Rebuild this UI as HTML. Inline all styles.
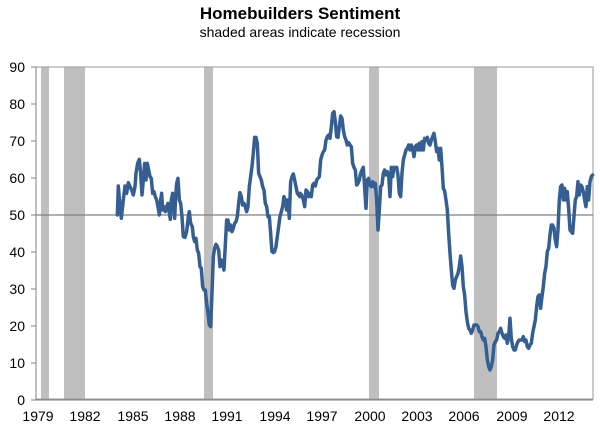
<!DOCTYPE html>
<html><head><style>
body{margin:0;background:#fff;width:600px;height:430px;overflow:hidden;font-family:"Liberation Sans",Arial,sans-serif}
</style></head><body>
<svg width="600" height="430" xmlns="http://www.w3.org/2000/svg" font-family="Liberation Sans, Arial, sans-serif">
<text x="300" y="19" text-anchor="middle" font-size="17" font-weight="bold">Homebuilders Sentiment</text>
<text x="300" y="37" text-anchor="middle" font-size="14">shaded areas indicate recession</text>
<g fill="#bfbfbf">
<rect x="41" y="67" width="8" height="332"/>
<rect x="64" y="67" width="21" height="332"/>
<rect x="204" y="67" width="9" height="332"/>
<rect x="369" y="67" width="10" height="332"/>
<rect x="474" y="67" width="23" height="332"/>
</g>
<rect x="36" y="67" width="557" height="332" fill="none" stroke="#9a9a9a" stroke-width="1"/>
<line x1="36" y1="215" x2="593" y2="215" stroke="#808080" stroke-width="1.2"/>
<g stroke="#808080" stroke-width="1">
<line x1="36" y1="67" x2="36" y2="400"/>
<line x1="31" y1="67" x2="36" y2="67"/><line x1="31" y1="104" x2="36" y2="104"/><line x1="31" y1="141" x2="36" y2="141"/><line x1="31" y1="178" x2="36" y2="178"/><line x1="31" y1="215" x2="36" y2="215"/><line x1="31" y1="252" x2="36" y2="252"/><line x1="31" y1="289" x2="36" y2="289"/><line x1="31" y1="326" x2="36" y2="326"/><line x1="31" y1="363" x2="36" y2="363"/><line x1="31" y1="400" x2="36" y2="400"/>
<line x1="31" y1="400" x2="593" y2="400"/>
</g>
<g font-size="14" text-anchor="end" fill="#000">
<text x="25" y="72">90</text><text x="25" y="109">80</text><text x="25" y="146">70</text><text x="25" y="183">60</text><text x="25" y="220">50</text><text x="25" y="257">40</text><text x="25" y="294">30</text><text x="25" y="331">20</text><text x="25" y="368">10</text><text x="25" y="405">0</text>
</g>
<g font-size="14" text-anchor="middle" fill="#000">
<text x="38" y="421">1979</text><text x="85" y="421">1982</text><text x="133" y="421">1985</text><text x="180" y="421">1988</text><text x="227" y="421">1991</text><text x="275" y="421">1994</text><text x="322" y="421">1997</text><text x="370" y="421">2000</text><text x="417" y="421">2003</text><text x="464" y="421">2006</text><text x="512" y="421">2009</text><text x="559" y="421">2012</text>
</g>
<g fill="none" stroke="#355f93" stroke-width="3.5" stroke-linejoin="round" stroke-linecap="round">
<path vector-effect="non-scaling-stroke" transform="translate(30,60) scale(0.3333)" d="M262,465 L265,378 L270,440 L274,475 L280,420 L285,378 L290,400 L295,368 L300,380 L305,390 L310,405 L315,380 L318,340 L323,310 L328,298 L332,340 L336,405 L340,360 L344,310 L348,360 L352,310 L356,330 L360,350 L364,355 L368,400 L372,395 L376,410 L380,420 L384,440 L388,465 L392,420 L395,400 L398,450 L402,440 L406,455 L410,440 L414,430 L418,460 L421,478 L424,420 L428,400 L431,430 L434,475 L437,410 L440,370 L444,355 L448,420 L452,430 L456,470 L460,530 L465,532 L470,515 L475,470 L478,455 L482,490 L487,500 L490,530 L494,545 L498,535 L502,570 L506,580 L510,620 L514,625 L518,680 L522,690 L526,690 L530,730 L534,760 L538,795 L542,800 L546,700 L550,590 L554,565 L558,553 L562,560 L566,570 L570,620 L574,600 L578,610 L582,630 L586,555 L590,480 L594,480 L598,510 L602,495 L606,515 L610,505 L614,490 L618,485 L622,470 L626,430 L630,398 L634,410 L638,435 L642,430 L646,440 L650,455 L654,440 L658,380 L662,350 L666,320 L670,280 L674,232 L678,232 L682,250 L686,340 L690,350 L694,360 L698,380 L702,390 L706,430 L710,440 L714,470 L718,470 L722,520 L726,575 L730,578 L734,575 L738,560 L742,530 L746,500 L750,470 L754,455 L758,440 L762,410 L766,420 L770,450 L774,420 L778,475 L782,365 L786,350 L790,342 L794,360 L798,380 L802,400 L806,405 L810,410"/>
<path vector-effect="non-scaling-stroke" transform="translate(300,60) scale(0.3333)" d="M0,400 L5,405 L10,420 L14,440 L18,390 L22,395 L26,410 L30,400 L34,410 L38,375 L42,370 L46,378 L50,360 L54,355 L58,350 L62,300 L66,285 L70,275 L74,270 L78,240 L82,230 L86,225 L90,235 L94,200 L98,160 L102,155 L106,185 L110,230 L114,232 L118,200 L122,168 L126,175 L130,210 L134,230 L138,240 L142,255 L146,248 L150,255 L154,260 L158,310 L162,322 L166,330 L170,375 L174,370 L178,360 L182,340 L186,330 L190,322 L194,385 L198,445 L202,360 L206,355 L210,375 L214,380 L218,365 L222,380 L226,370 L230,420 L234,510 L238,450 L242,380 L246,375 L250,340 L254,330 L258,345 L262,335 L266,345 L270,410 L274,322 L278,350 L282,322 L286,325 L290,322 L294,345 L298,400 L302,410 L306,340 L310,300 L314,285 L318,270 L322,265 L326,255 L330,270 L334,255 L338,265 L342,290 L346,260 L350,255 L354,270 L358,250 L362,270 L366,245 L370,270 L374,235 L378,240 L382,232 L386,250 L390,255 L394,240 L398,230 L402,220 L406,245 L410,275 L414,265 L418,300 L422,265 L426,320 L430,385 L434,393 L438,420 L442,450 L446,520 L450,580 L454,630 L458,675 L462,685 L466,660 L470,650 L474,640 L478,620 L482,588 L486,620 L490,680 L494,705 L498,755 L502,785 L506,805 L510,810 L514,820 L518,810 L522,795 L526,795 L530,795 L534,800 L538,815 L542,815 L546,830 L550,840 L554,835 L558,860 L562,900 L566,920 L570,930 L574,920 L578,900 L582,855 L586,845 L590,840 L594,820 L598,815 L602,805 L606,820 L610,830 L614,835 L618,825 L622,850 L626,830 L630,775 L634,835 L638,860 L642,870 L646,870 L650,855 L654,845 L658,840 L662,840 L666,840 L670,830 L674,845 L678,840 L682,860 L686,865 L690,855 L694,850 L698,820 L702,800 L706,780 L710,740 L714,710 L718,705 L722,745 L726,710 L730,680 L734,640 L738,620 L742,575 L746,565 L750,525 L754,495 L758,495 L762,505 L766,540 L770,560 L774,510 L778,420 L782,380 L786,375 L790,420 L794,385 L798,420 L802,395 L806,445 L810,510 L814,515 L818,520 L822,470 L826,420 L830,410 L834,365 L838,405 L842,375 L846,380 L850,395 L854,420 L858,440 L862,380 L866,420 L870,365 L874,350 L878,345"/>
</g>
</svg>
</body></html>
